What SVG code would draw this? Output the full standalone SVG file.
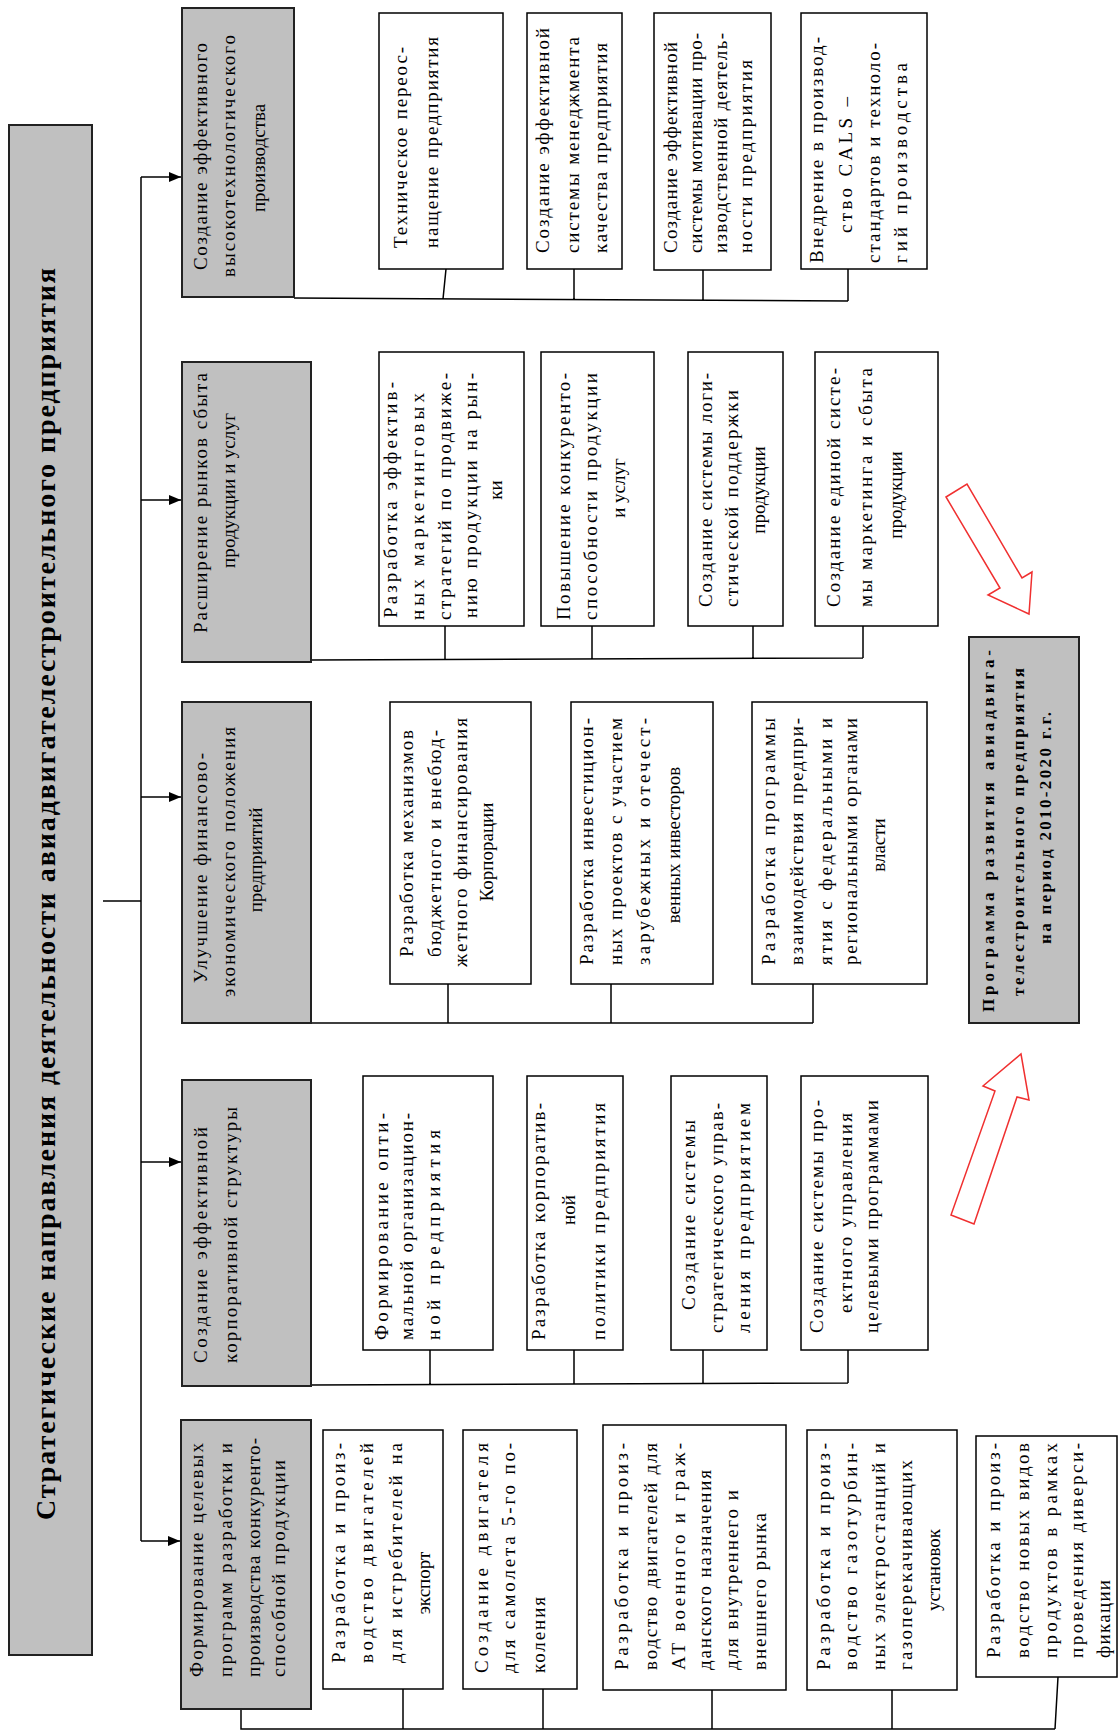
<svg xmlns="http://www.w3.org/2000/svg" width="1120" height="1731" viewBox="0 0 1120 1731">
<style>
.t{font-family:"Liberation Serif","Times New Roman",serif;font-size:19px;fill:#000}
.tb{font-family:"Liberation Serif","Times New Roman",serif;font-weight:bold;fill:#000}
.box{fill:#fff;stroke:#000;stroke-width:1.5}
.hd{fill:#c0c0c0;stroke:#222;stroke-width:2}
.ln{fill:none;stroke:#000;stroke-width:1.5}
.ra{fill:#fff;stroke:#f03030;stroke-width:1.5;stroke-linejoin:miter}
</style>
<defs>
<marker id="ah" markerUnits="userSpaceOnUse" markerWidth="12" markerHeight="10" refX="12" refY="5" orient="auto">
<path d="M0,0 L12,5 L0,10 Z" fill="#000"/>
</marker>
</defs>
<rect width="1120" height="1731" fill="#fff"/>

<g id="title">
<rect x="9" y="125" width="83" height="1530" class="hd"/>
<text class="tb" font-size="28" transform="rotate(-90)" x="-894" y="55" text-anchor="middle" textLength="1252">Стратегические  направления деятельности авиадвигателестроительного предприятия</text>
</g>

<g id="connectors">
<path class="ln" d="M103,901 H141 M141,177 V1541"/>
<path class="ln" marker-end="url(#ah)" d="M141,177 H181"/>
<path class="ln" marker-end="url(#ah)" d="M141,500 H181"/>
<path class="ln" marker-end="url(#ah)" d="M141,797 H181"/>
<path class="ln" marker-end="url(#ah)" d="M141,1162 H181"/>
<path class="ln" marker-end="url(#ah)" d="M141,1541 H180"/>
<path class="ln" d="M294,298 L848,301 M446,269 L443,299 M574,269 V300 M703,270 V300 M848,269 V301"/>
<path class="ln" d="M311,660 L863,658 M445,626 V660 M592,626 V659 M753,626 V659 M863,626 V658"/>
<path class="ln" d="M311,1023 H813 M448,984 V1023 M611,984 V1023 M813,984 V1023"/>
<path class="ln" d="M311,1385 L848,1383 M430,1350 V1385 M574,1350 V1384 M703,1350 V1384 M848,1350 V1383"/>
<path class="ln" d="M241,1709 V1729 H1055 M403,1689 V1729 M543,1689 V1729 M712,1690 V1729 M892,1690 V1729 M1058,1677 L1055,1729"/>
</g>

<g id="flow-arrows">
<polygon class="ra" points="946,497 967,484 1022,578 1032,572 1029,614 988,595 1000,588"/>
<polygon class="ra" points="951,1215 974,1224 1017,1097 1029,1100 1021,1054 983,1086 995,1091"/>
</g>

<g id="program">
<rect x="969" y="637" width="110" height="386" class="hd"/>
<g transform="rotate(-90)" class="tb" font-size="17">
<text x="-1012" y="994" textLength="362">Программа  развития  авиадвига-</text>
<text x="-996" y="1024" textLength="328">телестроительного предприятия</text>
<text x="-828" y="1051" text-anchor="middle" textLength="232">на период 2010-2020 г.г.</text>
</g>
</g>

<!-- Band 1 -->
<g id="h1">
<rect x="182" y="8" width="112" height="289" class="hd"/>
<g transform="rotate(-90)" class="t">
<text x="-270" y="207" textLength="227">Создание эффективного</text>
<text x="-277" y="235" textLength="242">высокотехнологического</text>
<text x="-158" y="265" text-anchor="middle">производства</text>
</g>
</g>
<g id="b1a">
<rect x="379" y="13" width="124" height="256" class="box"/>
<g transform="rotate(-90)" class="t">
<text x="-248" y="407" textLength="201">Техническое переос-</text>
<text x="-248" y="438" textLength="211">нащение предприятия</text>
</g>
</g>
<g id="b1b">
<rect x="527" y="13" width="95" height="256" class="box"/>
<g transform="rotate(-90)" class="t">
<text x="-253" y="549" textLength="225">Создание эффективной</text>
<text x="-253" y="579" textLength="216">системы менеджмента</text>
<text x="-253" y="607" textLength="210">качества предприятия</text>
</g>
</g>
<g id="b1c">
<rect x="654" y="13" width="117" height="257" class="box"/>
<g transform="rotate(-90)" class="t">
<text x="-253" y="677" textLength="211">Создание эффективной</text>
<text x="-253" y="702" textLength="220">системы мотивации про-</text>
<text x="-253" y="727" textLength="220">изводственной деятель-</text>
<text x="-253" y="752" textLength="193">ности предприятия</text>
</g>
</g>
<g id="b1d">
<rect x="801" y="13" width="126" height="256" class="box"/>
<g transform="rotate(-90)" class="t">
<text x="-263" y="823" textLength="226">Внедрение в производ-</text>
<text x="-233" y="852" textLength="136">ство CALS –</text>
<text x="-263" y="880" textLength="220">стандартов и техноло-</text>
<text x="-263" y="907" textLength="200">гий производства</text>
</g>
</g>

<!-- Band 2 -->
<g id="h2">
<rect x="182" y="362" width="129" height="300" class="hd"/>
<g transform="rotate(-90)" class="t">
<text x="-633" y="207" textLength="260">Расширение рынков сбыта</text>
<text x="-568" y="235" textLength="155">продукции и услуг</text>
</g>
</g>
<g id="b2a">
<rect x="379" y="352" width="145" height="274" class="box"/>
<g transform="rotate(-90)" class="t">
<text x="-618" y="397" textLength="236">Разработка эффектив-</text>
<text x="-620" y="424" textLength="227">ных маркетинговых</text>
<text x="-620" y="451" textLength="247">стратегий по продвиже-</text>
<text x="-618" y="477" textLength="245">нию продукции на рын-</text>
<text x="-490" y="502" text-anchor="middle">ки</text>
</g>
</g>
<g id="b2b">
<rect x="541" y="352" width="113" height="274" class="box"/>
<g transform="rotate(-90)" class="t">
<text x="-620" y="570" textLength="247">Повышение конкуренто-</text>
<text x="-620" y="597" textLength="247">способности продукции</text>
<text x="-488" y="625" text-anchor="middle">и услуг</text>
</g>
</g>
<g id="b2c">
<rect x="688" y="352" width="95" height="274" class="box"/>
<g transform="rotate(-90)" class="t">
<text x="-607" y="712" textLength="234">Создание системы логи-</text>
<text x="-607" y="738" textLength="217">стической поддержки</text>
<text x="-490" y="765" text-anchor="middle">продукции</text>
</g>
</g>
<g id="b2d">
<rect x="815" y="352" width="123" height="274" class="box"/>
<g transform="rotate(-90)" class="t">
<text x="-607" y="840" textLength="239">Создание единой систе-</text>
<text x="-607" y="872" textLength="239">мы маркетинга и сбыта</text>
<text x="-495" y="902" text-anchor="middle">продукции</text>
</g>
</g>

<!-- Band 3 -->
<g id="h3">
<rect x="182" y="702" width="129" height="321" class="hd"/>
<g transform="rotate(-90)" class="t">
<text x="-983" y="207" textLength="230">Улучшение финансово-</text>
<text x="-997" y="235" textLength="270">экономического положения</text>
<text x="-860" y="262" text-anchor="middle">предприятий</text>
</g>
</g>
<g id="b3a">
<rect x="390" y="702" width="141" height="282" class="box"/>
<g transform="rotate(-90)" class="t">
<text x="-957" y="413" textLength="227">Разработка механизмов</text>
<text x="-957" y="441" textLength="227">бюджетного и внебюд-</text>
<text x="-967" y="467" textLength="249">жетного финансирования</text>
<text x="-852" y="493" text-anchor="middle">Корпорации</text>
</g>
</g>
<g id="b3b">
<rect x="571" y="702" width="142" height="282" class="box"/>
<g transform="rotate(-90)" class="t">
<text x="-965" y="593" textLength="247">Разработка инвестицион-</text>
<text x="-965" y="622" textLength="247">ных проектов с участием</text>
<text x="-965" y="650" textLength="247">зарубежных и отечест-</text>
<text x="-845" y="680" text-anchor="middle">венных инвесторов</text>
</g>
</g>
<g id="b3c">
<rect x="752" y="702" width="175" height="282" class="box"/>
<g transform="rotate(-90)" class="t">
<text x="-965" y="775" textLength="247">Разработка программы</text>
<text x="-965" y="803" textLength="247">взаимодействия предпри-</text>
<text x="-965" y="832" textLength="247">ятия с федеральными и</text>
<text x="-965" y="857" textLength="247">региональными органами</text>
<text x="-845" y="885" text-anchor="middle">власти</text>
</g>
</g>

<!-- Band 4 -->
<g id="h4">
<rect x="182" y="1080" width="129" height="306" class="hd"/>
<g transform="rotate(-90)" class="t">
<text x="-1363" y="207" textLength="236">Создание эффективной</text>
<text x="-1363" y="237" textLength="256">корпоративной структуры</text>
</g>
</g>
<g id="b4a">
<rect x="363" y="1076" width="130" height="274" class="box"/>
<g transform="rotate(-90)" class="t">
<text x="-1340" y="388" textLength="227">Формирование опти-</text>
<text x="-1340" y="413" textLength="227">мальной организацион-</text>
<text x="-1340" y="440" textLength="210">ной  предприятия</text>
</g>
</g>
<g id="b4b">
<rect x="527" y="1076" width="96" height="274" class="box"/>
<g transform="rotate(-90)" class="t">
<text x="-1340" y="545" textLength="237">Разработка корпоратив-</text>
<text x="-1210" y="575" text-anchor="middle">ной</text>
<text x="-1340" y="605" textLength="237">политики  предприятия</text>
</g>
</g>
<g id="b4c">
<rect x="671" y="1076" width="96" height="274" class="box"/>
<g transform="rotate(-90)" class="t">
<text x="-1310" y="695" textLength="190">Создание  системы</text>
<text x="-1333" y="723" textLength="230">стратегического управ-</text>
<text x="-1333" y="750" textLength="230">ления предприятием</text>
</g>
</g>
<g id="b4d">
<rect x="801" y="1076" width="127" height="274" class="box"/>
<g transform="rotate(-90)" class="t">
<text x="-1333" y="823" textLength="233">Создание системы про-</text>
<text x="-1313" y="852" textLength="200">ектного управления</text>
<text x="-1333" y="878" textLength="233">целевыми программами</text>
</g>
</g>

<!-- Band 5 -->
<g id="h5">
<rect x="181" y="1420" width="130" height="289" class="hd"/>
<g transform="rotate(-90)" class="t">
<text x="-1677" y="203" textLength="234">Формирование целевых</text>
<text x="-1677" y="232" textLength="234">программ разработки и</text>
<text x="-1677" y="260" textLength="239">производства конкуренто-</text>
<text x="-1677" y="285" textLength="217">способной продукции</text>
</g>
</g>
<g id="b5a">
<rect x="323" y="1430" width="120" height="259" class="box"/>
<g transform="rotate(-90)" class="t">
<text x="-1663" y="345" textLength="220">Разработка и произ-</text>
<text x="-1663" y="373" textLength="220">водство двигателей</text>
<text x="-1663" y="402" textLength="220">для истребителей на</text>
<text x="-1583" y="430" text-anchor="middle">экспорт</text>
</g>
</g>
<g id="b5b">
<rect x="463" y="1430" width="114" height="259" class="box"/>
<g transform="rotate(-90)" class="t">
<text x="-1673" y="488" textLength="230">Создание      двигателя</text>
<text x="-1673" y="515" textLength="230">для самолета 5-го по-</text>
<text x="-1673" y="545" textLength="76">коления</text>
</g>
</g>
<g id="b5c">
<rect x="603" y="1425" width="183" height="265" class="box"/>
<g transform="rotate(-90)" class="t">
<text x="-1670" y="628" textLength="227">Разработка  и произ-</text>
<text x="-1670" y="657" textLength="227">водство двигателей для</text>
<text x="-1670" y="685" textLength="227">АТ военного и граж-</text>
<text x="-1670" y="711" textLength="200">данского назначения</text>
<text x="-1670" y="738" textLength="180">для внутреннего и</text>
<text x="-1670" y="766" textLength="157">внешнего рынка</text>
</g>
</g>
<g id="b5d">
<rect x="807" y="1430" width="150" height="260" class="box"/>
<g transform="rotate(-90)" class="t">
<text x="-1670" y="830" textLength="227">Разработка и произ-</text>
<text x="-1670" y="857" textLength="227">водство газотурбин-</text>
<text x="-1670" y="885" textLength="227">ных электростанций  и</text>
<text x="-1670" y="912" textLength="210">газоперекачивающих</text>
<text x="-1570" y="940" text-anchor="middle">установок</text>
</g>
</g>
<g id="b5e">
<rect x="976" y="1436" width="141" height="241" class="box"/>
<g transform="rotate(-90)" class="t">
<text x="-1658" y="1000" textLength="215">Разработка и произ-</text>
<text x="-1658" y="1029" textLength="215">водство новых видов</text>
<text x="-1658" y="1057" textLength="215">продуктов в рамках</text>
<text x="-1658" y="1083" textLength="215">проведения диверси-</text>
<text x="-1658" y="1110" textLength="78">фикации</text>
</g>
</g>
</svg>
